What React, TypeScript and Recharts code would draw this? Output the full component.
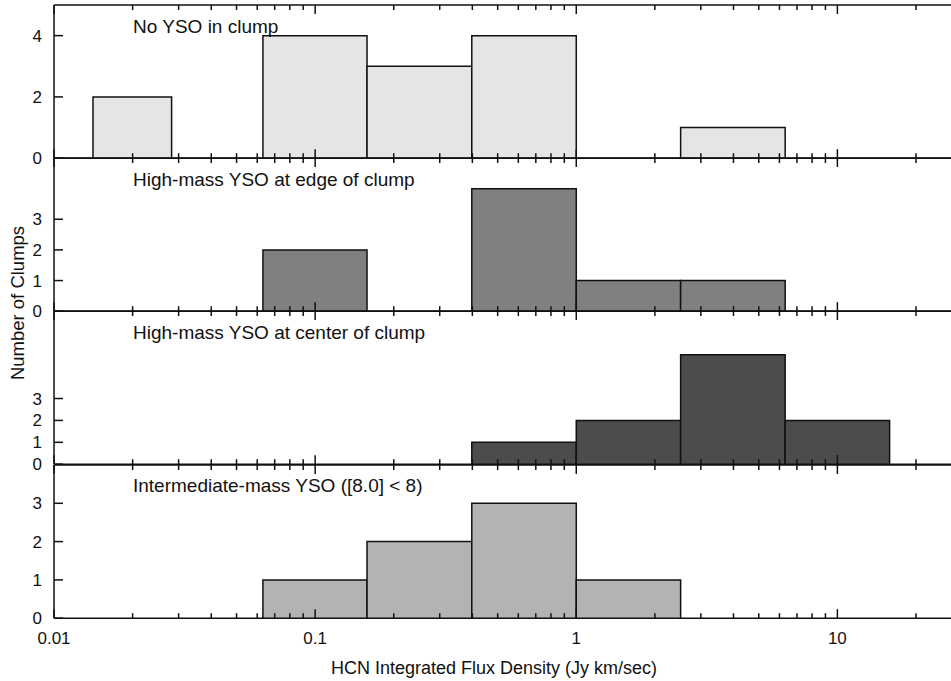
import React from "react";
import { ComposedChart, ReferenceArea, XAxis, YAxis } from "recharts";

// Histogram bins (log-spaced, in Jy km/sec): lower and upper edges.
const binLo = [0.0141, 0.0631, 0.158, 0.398, 1.0, 2.51, 6.31];
const binHi = [0.0282, 0.158, 0.398, 1.0, 2.51, 6.31, 15.85];

// Clump counts per bin, one row per YSO class.
const noYsoCounts = [2, 4, 3, 4, 0, 1, 0];
const edgeCounts = [0, 2, 0, 4, 1, 1, 0];
const centerCounts = [0, 0, 0, 1, 2, 5, 2];
const intermediateCounts = [0, 1, 2, 3, 1, 0, 0];

const panelTitles = [
  "No YSO in clump",
  "High-mass YSO at edge of clump",
  "High-mass YSO at center of clump",
  "Intermediate-mass YSO ([8.0] < 8)",
];
const panelFills = ["#e5e5e5", "#808080", "#4c4c4c", "#b3b3b3"];
const panelYMax = [5, 5, 7, 4];
const panelYTicks = [
  [0, 2, 4],
  [0, 1, 2, 3],
  [0, 1, 2, 3],
  [0, 1, 2, 3],
];

const majorTicks = [0.01, 0.1, 1, 10];
const minorTicks = [
  0.02, 0.03, 0.04, 0.05, 0.06, 0.07, 0.08, 0.09,
  0.2, 0.3, 0.4, 0.5, 0.6, 0.7, 0.8, 0.9,
  2, 3, 4, 5, 6, 7, 8, 9,
  20,
];
const allTicks = [...majorTicks, ...minorTicks].sort((a, b) => a - b);

const X_DOMAIN: [number, number] = [0.01, 30];
const INK = "#111";
const FONT = '"Liberation Sans", Arial, Helvetica, sans-serif';
const AXIS_W = 54;
const CHART_W = 962;
const PANEL_TOPS = [5, 158.2, 311.4, 464.6];
const PANEL_H = 153.2;
const PAD = 10;
// x axes need a non-zero height to be drawn at all
const X_AXIS_H = 1;

const panels = [noYsoCounts, edgeCounts, centerCounts, intermediateCounts];

function XTick(props: any) {
  const { x, y, payload, side, showLabel } = props;
  const v = payload.value;
  const major = majorTicks.includes(v);
  const len = major ? 9 : 5;
  const dir = side === "top" ? 1 : -1;
  return (
    <g>
      <line x1={x} x2={x} y1={y} y2={y + dir * len} stroke={INK} strokeWidth={1.5} />
      {showLabel && major && (
        <text x={x} y={y + 26} textAnchor="middle" fontSize={17} fontFamily={FONT} fill={INK}>
          {String(v)}
        </text>
      )}
    </g>
  );
}

function YTick(props: any) {
  const { x, y, payload } = props;
  return (
    <g>
      <line x1={x} x2={x + 9} y1={y} y2={y} stroke={INK} strokeWidth={1.5} />
      <text x={x - 12} y={y + 6} textAnchor="end" fontSize={17} fontFamily={FONT} fill={INK}>
        {payload.value}
      </text>
    </g>
  );
}

function Panel({ index }: { index: number }) {
  const counts = panels[index];
  const last = index === panels.length - 1;
  const bottomPad = last ? 40 : PAD;
  const data = counts.map((n, i) => ({ lo: binLo[i], hi: binHi[i], n }));
  const axisLine = { stroke: INK, strokeWidth: 1.5 };

  return (
    <div style={{ position: "absolute", left: 0, top: PANEL_TOPS[index] - PAD - X_AXIS_H }}>
      <ComposedChart
        width={CHART_W}
        height={PANEL_H + PAD + bottomPad + 2 * X_AXIS_H}
        data={data}
        margin={{ top: PAD, right: 0, bottom: bottomPad, left: 0 }}
      >
        <XAxis
          xAxisId="bottom"
          orientation="bottom"
          type="number"
          dataKey="lo"
          scale="log"
          domain={X_DOMAIN}
          allowDataOverflow
          ticks={allTicks}
          interval={0}
          height={X_AXIS_H}
          tickSize={0}
          tickMargin={0}
          axisLine={axisLine}
          tickLine={false}
          tick={(p: any) => <XTick {...p} side="bottom" showLabel={last} />}
        />
        <XAxis
          xAxisId="top"
          orientation="top"
          type="number"
          dataKey="lo"
          scale="log"
          domain={X_DOMAIN}
          allowDataOverflow
          ticks={allTicks}
          interval={0}
          height={X_AXIS_H}
          tickSize={0}
          tickMargin={0}
          axisLine={axisLine}
          tickLine={false}
          tick={(p: any) => <XTick {...p} side="top" showLabel={false} />}
        />
        <YAxis
          yAxisId="y"
          type="number"
          domain={[0, panelYMax[index]]}
          allowDataOverflow
          ticks={panelYTicks[index]}
          interval={0}
          width={AXIS_W}
          tickSize={0}
          tickMargin={0}
          axisLine={axisLine}
          tickLine={false}
          tick={(p: any) => <YTick {...p} />}
        />
        {data
          .filter((d) => d.n > 0)
          .map((d) => (
            <ReferenceArea
              key={d.lo}
              xAxisId="bottom"
              yAxisId="y"
              x1={d.lo}
              x2={d.hi}
              y1={0}
              y2={d.n}
              fill={panelFills[index]}
              fillOpacity={1}
              stroke={INK}
              strokeWidth={1.5}
              ifOverflow="visible"
              zIndex={700}
            />
          ))}
      </ComposedChart>
      <div
        style={{
          position: "absolute",
          left: 133,
          top: PAD + X_AXIS_H + 21.5 - 11,
          fontSize: 19,
          lineHeight: "22px",
          fontFamily: FONT,
          color: INK,
          whiteSpace: "nowrap",
        }}
      >
        {panelTitles[index]}
      </div>
    </div>
  );
}

export default function App() {
  return (
    <div
      style={{
        position: "absolute",
        left: 0,
        top: 0,
        width: 951,
        height: 681,
        overflow: "hidden",
        background: "#fff",
      }}
    >
      {panels.map((_, i) => (
        <Panel key={i} index={i} />
      ))}
      <div
        style={{
          position: "absolute",
          left: 18,
          top: 303,
          transform: "translate(-50%, -50%) rotate(-90deg)",
          fontSize: 18.5,
          lineHeight: 1,
          fontFamily: FONT,
          color: INK,
          whiteSpace: "nowrap",
        }}
      >
        Number of Clumps
      </div>
      <div
        style={{
          position: "absolute",
          left: 494,
          top: 668,
          transform: "translate(-50%, -50%)",
          fontSize: 18,
          lineHeight: 1,
          fontFamily: FONT,
          color: INK,
          whiteSpace: "nowrap",
        }}
      >
        HCN Integrated Flux Density (Jy km/sec)
      </div>
    </div>
  );
}
